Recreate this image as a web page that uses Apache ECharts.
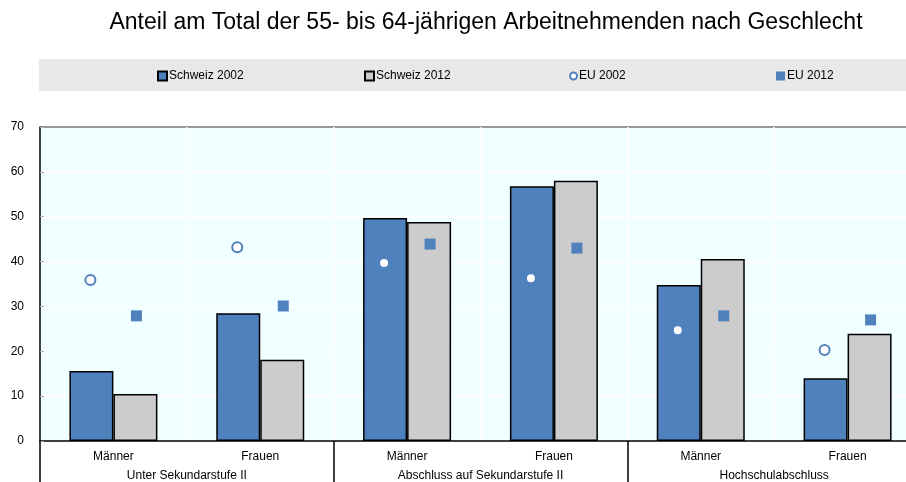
<!DOCTYPE html>
<html>
<head>
<meta charset="utf-8">
<script src="https://cdn.jsdelivr.net/npm/echarts@6/dist/echarts.min.js"></script>
<style>
html,body{margin:0;padding:0;background:#fff;overflow:hidden;width:906px;height:482px;}
#chart{width:921px;height:482px;}
</style>
</head>
<body>
<div id="chart"></div>
<script>
var categories = ['Männer', 'Frauen', 'Männer', 'Frauen', 'Männer', 'Frauen'];
var groups = ['Unter Sekundarstufe II', 'Abschluss auf Sekundarstufe II', 'Hochschulabschluss'];
var yTicks = [0, 10, 20, 30, 40, 50, 60, 70];
var schweiz2002 = [15.6, 28.5, 49.7, 56.8, 34.8, 14.0];
var schweiz2012 = [10.5, 18.1, 48.8, 58.0, 40.6, 23.9];
var eu2002 = [35.9, 43.2, 39.7, 36.3, 24.7, 20.3];
var eu2012 = [27.9, 30.1, 43.9, 43.0, 27.9, 27.0];
var seriesNames = ['Schweiz 2002', 'Schweiz 2012', 'EU 2002', 'EU 2012'];

var BLUE = '#4f81bd', GREY = '#cccccc';
var FONT = '"Liberation Sans", Arial, sans-serif';
var barW = 44;

var chart = echarts.init(document.getElementById('chart'));
var legendX = [157, 364, 569, 776];
var legendIcons = ['rect', 'rect', 'circle', 'rect'];
var legends = seriesNames.map(function (n, i) {
  return {
    data: [{ name: n, icon: legendIcons[i] }], left: legendX[i], top: 70,
    itemWidth: i === 2 ? 7 : 9, itemHeight: i === 2 ? 7 : 9,
    itemGap: 0, padding: 0,
    textStyle: { fontFamily: FONT, fontSize: 12, color: '#000', padding: [0, 0, 0, -3] }
  };
});

chart.setOption({
  animation: false,
  title: {
    text: 'Anteil am Total der 55- bis 64-jährigen Arbeitnehmenden nach Geschlecht',
    left: 481, top: 6, textAlign: 'center',
    textStyle: { fontFamily: FONT, fontSize: 23, fontWeight: 'normal', color: '#000' }
  },
  graphic: [{
    type: 'rect', z: -1, shape: { x: 39, y: 59, width: 867, height: 32 },
    style: { fill: '#e8e8e8' }, silent: true
  }],
  legend: legends,
  grid: { left: 40, right: 0, top: 127, bottom: 41, backgroundColor: '#f0ffff', show: true, borderWidth: 0 },
  xAxis: [{
    type: 'category', data: categories, position: 'bottom',
    axisLine: { lineStyle: { color: '#000', width: 1.5 } },
    axisTick: { show: false },
    splitLine: { show: true, lineStyle: { color: '#ffffff', width: 1.5 } },
    axisLabel: { fontFamily: FONT, fontSize: 12, color: '#000', margin: 10 }
  }, {
    type: 'category', data: groups, position: 'bottom',
    axisLine: { show: false },
    axisTick: { show: true, length: 42, lineStyle: { color: '#000', width: 1.5 } },
    axisLabel: { fontFamily: FONT, fontSize: 12, color: '#000', margin: 29 }
  }],
  yAxis: {
    type: 'value', min: yTicks[0], max: yTicks[yTicks.length - 1], interval: 10,
    axisLine: { show: true, lineStyle: { color: '#000', width: 1.5 } },
    axisTick: { show: true, inside: true, length: 4, lineStyle: { color: '#aaaaaa' } },
    splitLine: { show: true, lineStyle: { color: ['#ffffff', '#ffffff', '#ffffff', '#ffffff', '#ffffff', '#ffffff', '#ffffff', '#777777'], width: 1.5 } },
    axisLabel: { fontFamily: FONT, fontSize: 12, color: '#000', margin: 16 }
  },
  series: [{
    name: seriesNames[0], type: 'bar', data: schweiz2002, barWidth: barW, barGap: '0%',
    itemStyle: { color: BLUE, borderColor: '#000', borderWidth: 1.5 }
  }, {
    name: seriesNames[1], type: 'bar', data: schweiz2012, barWidth: barW, barGap: '0%',
    itemStyle: { color: GREY, borderColor: '#000', borderWidth: 1.5 }
  }, {
    name: seriesNames[2], type: 'scatter', data: eu2002, symbol: 'circle', symbolSize: 10,
    symbolOffset: [-barW / 2 - 1, 0], z: 5,
    itemStyle: { color: '#ffffff', borderColor: BLUE, borderWidth: 2, opacity: 1 }
  }, {
    name: seriesNames[3], type: 'scatter', data: eu2012, symbol: 'rect', symbolSize: 11,
    symbolOffset: [barW / 2 + 1, 0], z: 5,
    itemStyle: { color: BLUE, opacity: 1 }
  }]
});
</script>
</body>
</html>
